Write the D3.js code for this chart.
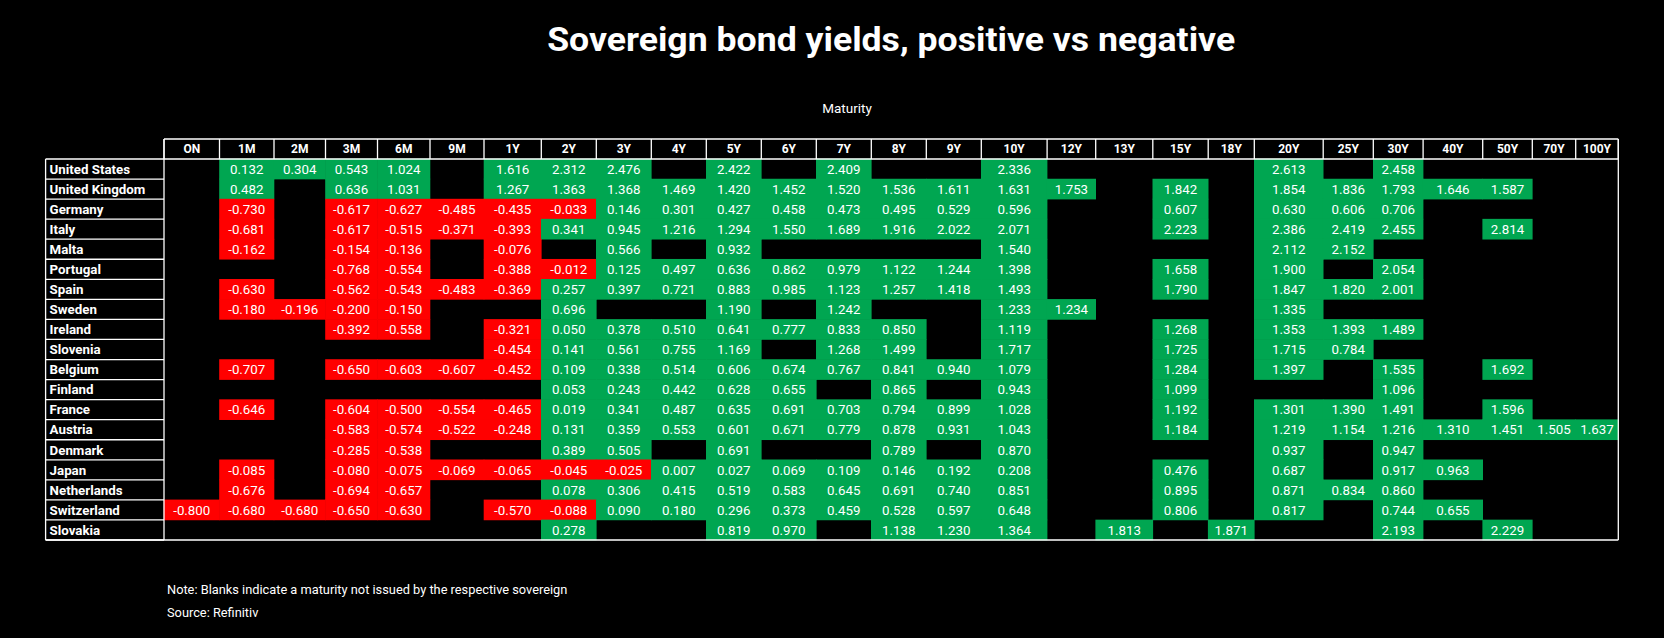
<!DOCTYPE html>
<html>
<head>
<meta charset="utf-8">
<script src="https://cdn.jsdelivr.net/npm/d3@7"></script>
<style>
  html, body { margin: 0; padding: 0; background: #000; }
  svg { display: block; font-family: Roboto, "Open Sans", sans-serif; }
</style>
</head>
<body>
<svg id="chart" width="1664" height="638"></svg>
<script>
// Maturities (column headers)
var maturities = ["ON", "1M", "2M", "3M", "6M", "9M", "1Y", "2Y", "3Y", "4Y", "5Y", "6Y", "7Y", "8Y", "9Y",
  "10Y", "12Y", "13Y", "15Y", "18Y", "20Y", "25Y", "30Y", "40Y", "50Y", "70Y", "100Y"];

// Sovereigns (row labels)
var countries = ["United States", "United Kingdom", "Germany", "Italy", "Malta", "Portugal", "Spain", "Sweden",
  "Ireland", "Slovenia", "Belgium", "Finland", "France", "Austria", "Denmark", "Japan", "Netherlands",
  "Switzerland", "Slovakia"];

// Yields in %, one row per country, one entry per maturity (null = not issued)
var _ = null;
var yields = [
  [_, 0.132, 0.304, 0.543, 1.024, _, 1.616, 2.312, 2.476, _, 2.422, _, 2.409, _, _, 2.336, _, _, _, _, 2.613, _, 2.458, _, _, _, _],
  [_, 0.482, _, 0.636, 1.031, _, 1.267, 1.363, 1.368, 1.469, 1.420, 1.452, 1.520, 1.536, 1.611, 1.631, 1.753, _, 1.842, _, 1.854, 1.836, 1.793, 1.646, 1.587, _, _],
  [_, -0.730, _, -0.617, -0.627, -0.485, -0.435, -0.033, 0.146, 0.301, 0.427, 0.458, 0.473, 0.495, 0.529, 0.596, _, _, 0.607, _, 0.630, 0.606, 0.706, _, _, _, _],
  [_, -0.681, _, -0.617, -0.515, -0.371, -0.393, 0.341, 0.945, 1.216, 1.294, 1.550, 1.689, 1.916, 2.022, 2.071, _, _, 2.223, _, 2.386, 2.419, 2.455, _, 2.814, _, _],
  [_, -0.162, _, -0.154, -0.136, _, -0.076, _, 0.566, _, 0.932, _, _, _, _, 1.540, _, _, _, _, 2.112, 2.152, _, _, _, _, _],
  [_, _, _, -0.768, -0.554, _, -0.388, -0.012, 0.125, 0.497, 0.636, 0.862, 0.979, 1.122, 1.244, 1.398, _, _, 1.658, _, 1.900, _, 2.054, _, _, _, _],
  [_, -0.630, _, -0.562, -0.543, -0.483, -0.369, 0.257, 0.397, 0.721, 0.883, 0.985, 1.123, 1.257, 1.418, 1.493, _, _, 1.790, _, 1.847, 1.820, 2.001, _, _, _, _],
  [_, -0.180, -0.196, -0.200, -0.150, _, _, 0.696, _, _, 1.190, _, 1.242, _, _, 1.233, 1.234, _, _, _, 1.335, _, _, _, _, _, _],
  [_, _, _, -0.392, -0.558, _, -0.321, 0.050, 0.378, 0.510, 0.641, 0.777, 0.833, 0.850, _, 1.119, _, _, 1.268, _, 1.353, 1.393, 1.489, _, _, _, _],
  [_, _, _, _, _, _, -0.454, 0.141, 0.561, 0.755, 1.169, _, 1.268, 1.499, _, 1.717, _, _, 1.725, _, 1.715, 0.784, _, _, _, _, _],
  [_, -0.707, _, -0.650, -0.603, -0.607, -0.452, 0.109, 0.338, 0.514, 0.606, 0.674, 0.767, 0.841, 0.940, 1.079, _, _, 1.284, _, 1.397, _, 1.535, _, 1.692, _, _],
  [_, _, _, _, _, _, _, 0.053, 0.243, 0.442, 0.628, 0.655, _, 0.865, _, 0.943, _, _, 1.099, _, _, _, 1.096, _, _, _, _],
  [_, -0.646, _, -0.604, -0.500, -0.554, -0.465, 0.019, 0.341, 0.487, 0.635, 0.691, 0.703, 0.794, 0.899, 1.028, _, _, 1.192, _, 1.301, 1.390, 1.491, _, 1.596, _, _],
  [_, _, _, -0.583, -0.574, -0.522, -0.248, 0.131, 0.359, 0.553, 0.601, 0.671, 0.779, 0.878, 0.931, 1.043, _, _, 1.184, _, 1.219, 1.154, 1.216, 1.310, 1.451, 1.505, 1.637],
  [_, _, _, -0.285, -0.538, _, _, 0.389, 0.505, _, 0.691, _, _, 0.789, _, 0.870, _, _, _, _, 0.937, _, 0.947, _, _, _, _],
  [_, -0.085, _, -0.080, -0.075, -0.069, -0.065, -0.045, -0.025, 0.007, 0.027, 0.069, 0.109, 0.146, 0.192, 0.208, _, _, 0.476, _, 0.687, _, 0.917, 0.963, _, _, _],
  [_, -0.676, _, -0.694, -0.657, _, _, 0.078, 0.306, 0.415, 0.519, 0.583, 0.645, 0.691, 0.740, 0.851, _, _, 0.895, _, 0.871, 0.834, 0.860, _, _, _, _],
  [-0.800, -0.680, -0.680, -0.650, -0.630, _, -0.570, -0.088, 0.090, 0.180, 0.296, 0.373, 0.459, 0.528, 0.597, 0.648, _, _, 0.806, _, 0.817, _, 0.744, 0.655, _, _, _],
  [_, _, _, _, _, _, _, 0.278, _, _, 0.819, 0.970, _, 1.138, 1.230, 1.364, _, 1.813, _, 1.871, _, _, 2.193, _, 2.229, _, _]
];

// Layout: column widths of the sheet (px), same order as maturities
var colWidths = [55.5, 54.5, 51.5, 52, 52.5, 54, 57.3, 55, 55, 55, 55, 55, 55, 55, 55,
  65.8, 48.6, 57.1, 55.4, 46.1, 68.9, 50.1, 49.8, 59.6, 49.6, 43.4, 42.6];

var svg = d3.select("#chart");
var W = 1664, H = 638;
svg.append("rect").attr("width", W).attr("height", H).attr("fill", "#000");

var labelLeft = 45.6, gridLeft = 164, tableTop = 139, headH = 20, gridBottom = 540;
var green = "#00a651", red = "#ff0000", line = "#fff";

// column positions
var edges = [gridLeft];
colWidths.forEach(function (w, i) { edges.push(edges[i] + w); });
var gridRight = edges[edges.length - 1];
var x = d3.scaleOrdinal().domain(maturities).range(edges.slice(0, -1));
var cw = d3.scaleOrdinal().domain(maturities).range(colWidths);

var y = d3.scaleBand().domain(countries).range([tableTop + headH, gridBottom]);

var fmt = d3.formatLocale({ decimal: ".", thousands: ",", grouping: [3], currency: ["", ""], minus: "-" }).format(".3f");

// title
svg.append("text")
  .attr("x", (gridLeft + gridRight) / 2).attr("y", 51)
  .attr("text-anchor", "middle")
  .attr("fill", "#fff")
  .attr("font-size", 33).attr("font-weight", 700)
  .attr("textLength", 688).attr("lengthAdjust", "spacingAndGlyphs")
  .text("Sovereign bond yields, positive vs negative");

svg.append("text")
  .attr("x", 847).attr("y", 113)
  .attr("text-anchor", "middle")
  .attr("fill", "#fff").attr("font-size", 13.5)
  .text("Maturity");

// cells
var cells = [];
yields.forEach(function (row, ri) {
  row.forEach(function (v, ci) {
    if (v !== null) cells.push({ country: countries[ri], mat: maturities[ci], value: v });
  });
});

var g = svg.append("g");
// slight overlap so neighbouring cells merge without seams
g.selectAll("rect.cell").data(cells).join("rect")
  .attr("class", "cell")
  .attr("x", d => x(d.mat) - 0.3)
  .attr("y", d => y(d.country) - 0.3)
  .attr("width", d => cw(d.mat) + 0.6)
  .attr("height", y.bandwidth() + 0.6)
  .attr("fill", d => d.value < 0 ? red : green);

g.selectAll("text.val").data(cells).join("text")
  .attr("class", "val")
  .attr("x", d => x(d.mat) + cw(d.mat) / 2)
  .attr("y", d => y(d.country) + y.bandwidth() / 2)
  .attr("dy", "0.36em")
  .attr("text-anchor", "middle")
  .attr("fill", "#fff")
  .attr("font-size", 13.3)
  .text(d => fmt(d.value));

// header row
var head = svg.append("g");
head.selectAll("text").data(maturities).join("text")
  .attr("x", d => x(d) + cw(d) / 2)
  .attr("y", tableTop + headH / 2)
  .attr("dy", "0.36em")
  .attr("text-anchor", "middle")
  .attr("fill", "#fff")
  .attr("font-size", 12).attr("font-weight", 700)
  .text(d => d);

// country labels
svg.append("g").selectAll("text").data(countries).join("text")
  .attr("x", labelLeft + 4)
  .attr("y", d => y(d) + y.bandwidth() / 2)
  .attr("dy", "0.36em")
  .attr("fill", "#fff")
  .attr("font-size", 13.3).attr("font-weight", 700)
  .text(d => d);

// grid lines
var lines = svg.append("g").attr("stroke", line).attr("stroke-width", 1.3).attr("fill", "none");
// header box
lines.append("line").attr("x1", gridLeft).attr("x2", gridRight).attr("y1", tableTop).attr("y2", tableTop);
lines.append("line").attr("x1", labelLeft).attr("x2", gridRight).attr("y1", tableTop + headH).attr("y2", tableTop + headH);
lines.selectAll("line.hsep").data(edges).join("line")
  .attr("class", "hsep")
  .attr("x1", d => d).attr("x2", d => d)
  .attr("y1", tableTop).attr("y2", tableTop + headH);
// label column rows
lines.selectAll("line.rsep").data(countries).join("line")
  .attr("class", "rsep")
  .attr("x1", labelLeft).attr("x2", gridLeft)
  .attr("y1", d => y(d) + y.bandwidth()).attr("y2", d => y(d) + y.bandwidth());
lines.append("line").attr("x1", labelLeft).attr("x2", labelLeft).attr("y1", tableTop + headH).attr("y2", gridBottom);
// data area outline
lines.append("line").attr("x1", gridLeft).attr("x2", gridLeft).attr("y1", tableTop).attr("y2", gridBottom);
lines.append("line").attr("x1", gridRight).attr("x2", gridRight).attr("y1", tableTop).attr("y2", gridBottom);
lines.append("line").attr("x1", labelLeft).attr("x2", gridRight).attr("y1", gridBottom).attr("y2", gridBottom);

// notes
svg.append("text")
  .attr("x", 167).attr("y", 594)
  .attr("fill", "#fff").attr("font-size", 12.8)
  .text("Note: Blanks indicate a maturity not issued by the respective sovereign");
svg.append("text")
  .attr("x", 167).attr("y", 617)
  .attr("fill", "#fff").attr("font-size", 12.8)
  .text("Source: Refinitiv");
</script>
</body>
</html>
